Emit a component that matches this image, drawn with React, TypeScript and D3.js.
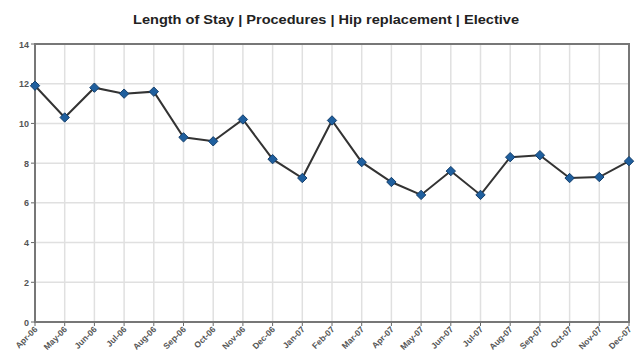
import React from "react";
import * as d3 from "d3";

const months = ["Apr-06","May-06","Jun-06","Jul-06","Aug-06","Sep-06","Oct-06","Nov-06","Dec-06","Jan-07","Feb-07","Mar-07","Apr-07","May-07","Jun-07","Jul-07","Aug-07","Sep-07","Oct-07","Nov-07","Dec-07"];
const stay = [11.9,10.3,11.8,11.5,11.6,9.3,9.1,10.2,8.2,7.25,10.15,8.05,7.05,6.4,7.6,6.4,8.3,8.4,7.25,7.3,8.1];
const yTicks = [0,2,4,6,8,10,12,14];
const title = "Length of Stay | Procedures | Hip replacement | Elective";

export default function App() {
  const W = 641, H = 361;
  const left = 35, right = 629, top = 44, bottom = 322;
  const x = d3.scalePoint<string>().domain(months).range([left, right]).padding(0);
  const y = d3.scaleLinear().domain([0, 14]).range([bottom, top]);
  const line = d3.line<number>().x((_, i) => x(months[i])!).y(d => y(d));
  const font = "'Liberation Sans', Arial, sans-serif";
  const diamond = d3.symbol().type(d3.symbolDiamond2).size(56)()!;
  return (
    <svg width={W} height={H} style={{ position: "absolute", left: 0, top: 0, background: "#fff" }} fontFamily={font}>
      <rect x={0} y={0} width={W} height={H} fill="#fff" />
      <text x={326} y={24} textAnchor="middle" fontSize={13} fontWeight="bold" fill="#222" textLength={386} lengthAdjust="spacingAndGlyphs">{title}</text>
      {yTicks.map(t => (
        <g key={"y" + t}>
          <line x1={left} x2={right} y1={y(t)} y2={y(t)} stroke="#e0e0e0" strokeWidth={1.5} />
          <line x1={left - 4} x2={left} y1={y(t)} y2={y(t)} stroke="#666" strokeWidth={1} />
          <text x={left - 6} y={y(t) + 3.5} textAnchor="end" fontSize={9} fontWeight="bold" fill="#555">{t}</text>
        </g>
      ))}
      {months.map(m => (
        <g key={m}>
          <line x1={x(m)} x2={x(m)} y1={top} y2={bottom} stroke="#e0e0e0" strokeWidth={1.5} />
          <line x1={x(m)} x2={x(m)} y1={bottom} y2={bottom + 4} stroke="#666" strokeWidth={1} />
          <text transform={`translate(${x(m)! + 3},${bottom + 8}) rotate(-45)`} textAnchor="end" fontSize={8.5} fontWeight="bold" fill="#555">{m}</text>
        </g>
      ))}
      <rect x={left} y={top} width={right - left} height={bottom - top} fill="none" stroke="#777" strokeWidth={2} />
      <path d={line(stay)!} fill="none" stroke="#333" strokeWidth={2} />
      {stay.map((v, i) => (
        <path key={i} d={diamond} transform={`translate(${x(months[i])},${y(v)})`} fill="#1f5f9e" stroke="#153f6b" strokeWidth={1} />
      ))}
    </svg>
  );
}
